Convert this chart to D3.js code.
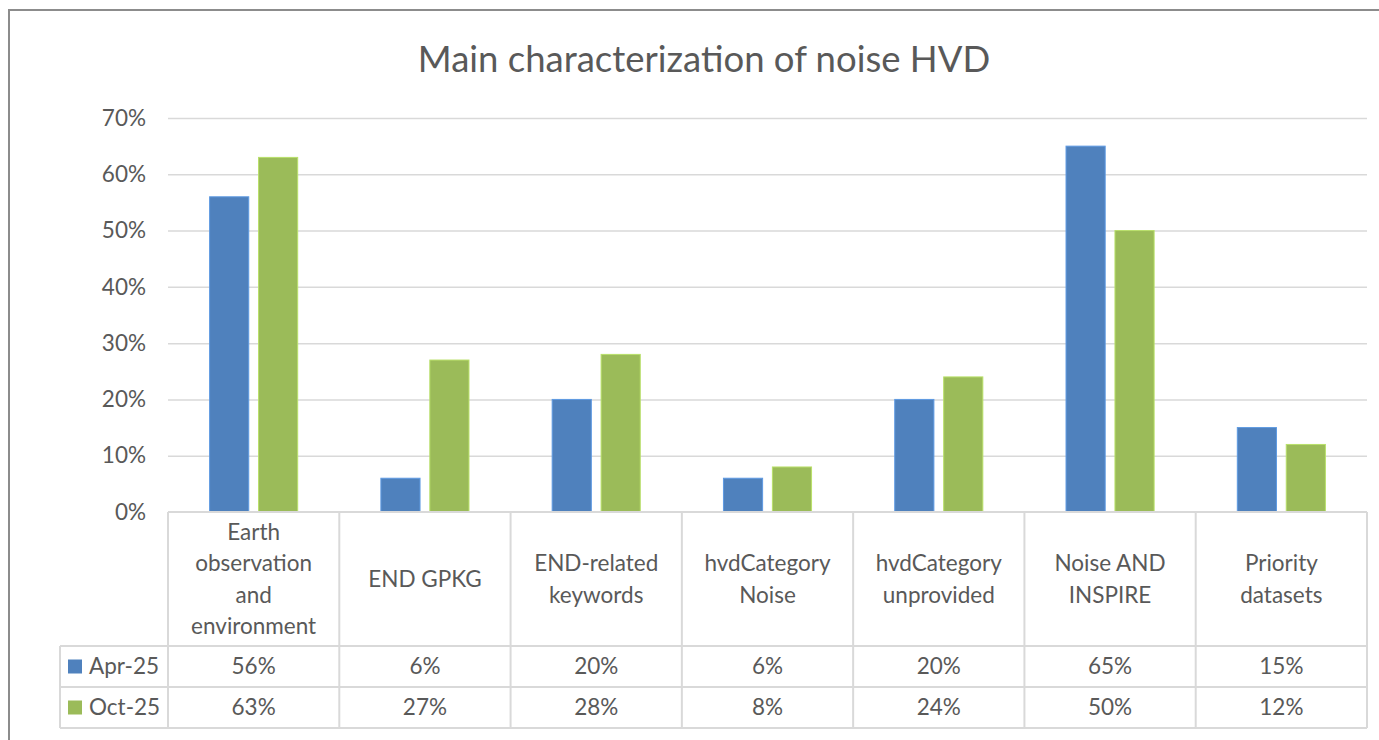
<!DOCTYPE html>
<html><head><meta charset="utf-8">
<script src="https://cdn.jsdelivr.net/npm/d3@7"></script>
<style>
html,body{margin:0;padding:0;background:#fff;}
svg{display:block;font-family:Lato,"Open Sans",sans-serif;}
</style></head>
<body>
<svg id="c" width="1379" height="740"></svg>
<script>
const categories = [
  ["Earth","observation","and","environment"],
  ["END GPKG"],
  ["END-related","keywords"],
  ["hvdCategory","Noise"],
  ["hvdCategory","unprovided"],
  ["Noise AND","INSPIRE"],
  ["Priority","datasets"]
];
const seriesNames = ["Apr-25","Oct-25"];
const apr25 = [56, 6, 20, 6, 20, 65, 15];
const oct25 = [63, 27, 28, 8, 24, 50, 12];
const yTicks = [0,10,20,30,40,50,60,70];
const colors = ["#4F81BD","#9BBB59"];
const series = [apr25, oct25];

const svg = d3.select("#c");
const textColor = "#595959";
const gridColor = "#D9D9D9";
const fs = 22.5;

// outer frame
svg.append("rect").attr("x",9).attr("y",10).attr("width",1380).attr("height",740)
  .attr("fill","none").attr("stroke","#8c8c8c").attr("stroke-width",2);

const plotL = 168, plotR = 1367, plotT = 118, plotB = 512;
const x = d3.scaleBand().domain(d3.range(categories.length)).range([plotL, plotR]).paddingInner(0).paddingOuter(0);
const y = d3.scaleLinear().domain([0,70]).range([plotB, plotT]);
const xs = d3.scaleBand().domain(d3.range(series.length)).range([0, x.bandwidth()]).paddingInner(0.2).paddingOuter(0.85);

// title
svg.append("text").attr("x",704).attr("y",72).attr("text-anchor","middle")
  .attr("fill",textColor).attr("font-size",36.5).text("Main characterization of noise HVD");

// gridlines & y labels
const yAxis = d3.axisLeft(y).tickValues(yTicks).tickSize(-(plotR-plotL)).tickFormat(d=>d+"%");
const ga = svg.append("g").attr("transform",`translate(${plotL},0)`).call(yAxis);
ga.select(".domain").remove();
ga.selectAll(".tick line").attr("stroke",gridColor).attr("stroke-width",1.5);
ga.selectAll(".tick text").attr("fill",textColor).attr("font-size",fs).attr("x",-22)
  .attr("font-family","Lato,'Open Sans',sans-serif");
ga.selectAll(".tick").filter(d=>d===0).select("line").remove();

// bars
series.forEach((s,si)=>{
  svg.append("g").selectAll("rect").data(s).join("rect")
    .attr("x",(d,i)=>x(i)+xs(si))
    .attr("width",xs.bandwidth())
    .attr("y",d=>y(d))
    .attr("height",d=>plotB-y(d))
    .attr("fill",colors[si])
    .attr("stroke",d3.color(colors[si]).brighter(0.5))
    .attr("stroke-width",1);
});

// data table
const tblL = 60, hdrB = 646, row1B = 687, row2B = 728;
const tg = svg.append("g");
const lineC = "#D9D9D9";
function hline(x1,x2,yy){tg.append("line").attr("x1",x1).attr("x2",x2).attr("y1",yy).attr("y2",yy).attr("stroke",lineC).attr("stroke-width",2);}
function vline(xx,y1,y2){tg.append("line").attr("x1",xx).attr("x2",xx).attr("y1",y1).attr("y2",y2).attr("stroke",lineC).attr("stroke-width",2);}
hline(plotL, plotR, plotB);
hline(tblL, plotR, hdrB);
hline(tblL, plotR, row1B);
hline(tblL, plotR, row2B);
vline(tblL, hdrB, row2B);
d3.range(categories.length+1).forEach(i=>{
  const xx = i<categories.length ? x(i) : plotR;
  vline(xx, plotB, row2B);
});

// category labels
categories.forEach((lines,i)=>{
  const cx = x(i)+x.bandwidth()/2;
  const lh = 31.3;
  const mid = (plotB+hdrB)/2;
  const start = mid - (lines.length-1)*lh/2;
  lines.forEach((ln,j)=>{
    tg.append("text").attr("x",cx).attr("y",start+j*lh).attr("dy","0.35em")
      .attr("text-anchor","middle").attr("fill",textColor).attr("font-size",fs).text(ln);
  });
});

// rows
const rowTops = [hdrB,row1B];
series.forEach((s,si)=>{
  const cy = rowTops[si] + (row1B-hdrB)/2;
  tg.append("rect").attr("x",68).attr("y",cy-7).attr("width",14).attr("height",14).attr("fill",colors[si]);
  tg.append("text").attr("x",89).attr("y",cy).attr("dy","0.35em").attr("fill",textColor).attr("font-size",fs).text(seriesNames[si]);
  s.forEach((v,i)=>{
    tg.append("text").attr("x",x(i)+x.bandwidth()/2).attr("y",cy).attr("dy","0.35em")
      .attr("text-anchor","middle").attr("fill",textColor).attr("font-size",fs).text(v+"%");
  });
});
</script>
</body></html>
